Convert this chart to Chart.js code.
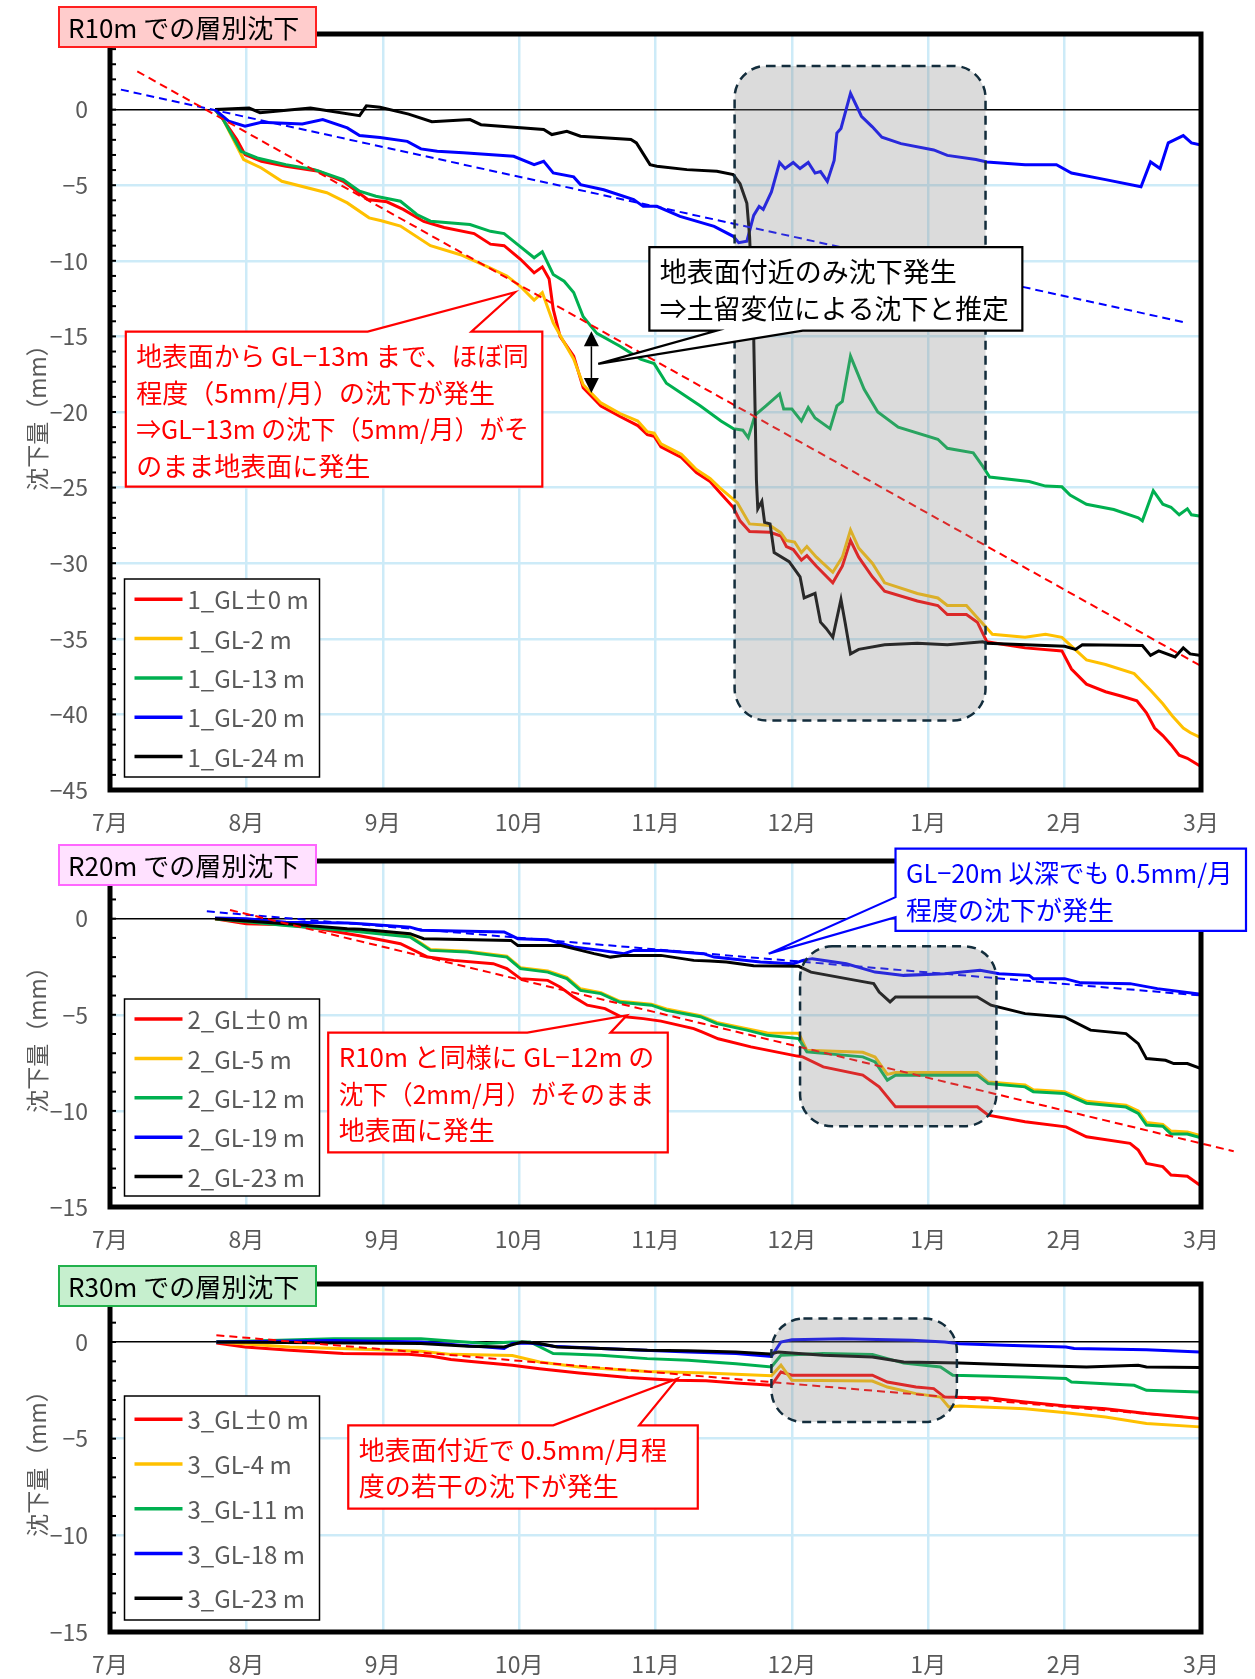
<!DOCTYPE html>
<html lang="ja">
<head>
<meta charset="utf-8">
<title>層別沈下</title>
<script src="https://cdn.jsdelivr.net/npm/chart.js@4.4.1/dist/chart.umd.min.js"></script>
<style>
    html, body { margin: 0; padding: 0; background: #fff; }
    #page { position: relative; width: 1255px; height: 1679px; overflow: hidden; }
    #page canvas { position: absolute; left: 0; }
</style>
</head>
<body>
<div id="page">
    <canvas id="chartR10" width="1255" height="845" style="top:0px"></canvas>
    <canvas id="chartR20" width="1255" height="425" style="top:840px"></canvas>
    <canvas id="chartR30" width="1255" height="417" style="top:1262px"></canvas>
</div>
<script>
'use strict';

// x is in months counted from 1 July (0 = 7月 ... 8 = 3月)
const monthTicks = [0, 1, 2, 3, 4, 5, 6, 7, 8];
const monthLabels = ['7月', '8月', '9月', '10月', '11月', '12月', '1月', '2月', '3月'];

const yTicksR10 = [0, -5, -10, -15, -20, -25, -30, -35, -40, -45];
const yTicksR20 = [0, -5, -10, -15];
const yTicksR30 = [0, -5, -10, -15];

const seriesColors = ['#FF0000', '#FFC000', '#00B050', '#0000FF', '#000000'];

// ---- R10m ----
const labelsR10 = ['1_GL±0 m', '1_GL-2 m', '1_GL-13 m', '1_GL-20 m', '1_GL-24 m'];

const r10Red = [[0.77,0],[0.83,-0.66],[0.93,-1.98],[0.99,-2.98],[1.11,-3.42],[1.29,-3.75],[1.53,-4.08],[1.71,-4.74],[1.89,-5.95],[2.03,-6.1],[2.15,-6.6],[2.30,-7.4],[2.45,-7.8],[2.67,-8.2],[2.79,-8.9],[2.89,-9.0],[3.01,-9.9],[3.11,-10.8],[3.17,-10.4],[3.22,-11.2],[3.25,-13.2],[3.30,-15.0],[3.40,-16.3],[3.47,-18.4],[3.60,-19.6],[3.74,-20.3],[3.87,-20.9],[3.94,-21.5],[3.99,-21.6],[4.04,-22.3],[4.19,-23.0],[4.30,-24.0],[4.40,-24.6],[4.48,-25.4],[4.57,-26.3],[4.62,-27.2],[4.69,-27.9],[4.84,-27.96],[4.92,-28.2],[4.96,-28.9],[5.01,-29.1],[5.07,-29.8],[5.11,-29.5],[5.18,-30.2],[5.30,-31.3],[5.37,-30.2],[5.43,-28.5],[5.49,-29.6],[5.59,-30.9],[5.68,-31.85],[5.92,-32.5],[6.07,-32.8],[6.14,-33.4],[6.28,-33.4],[6.36,-33.9],[6.43,-35.2],[6.71,-35.6],[6.98,-35.8],[7.05,-37.0],[7.16,-38.0],[7.30,-38.5],[7.42,-38.8],[7.53,-39.1],[7.60,-39.9],[7.66,-40.9],[7.72,-41.4],[7.78,-42.0],[7.84,-42.7],[7.90,-42.9],[7.99,-43.4]];
const r10Yellow = [[0.77,0],[0.83,-0.66],[0.98,-3.3],[1.11,-3.86],[1.26,-4.74],[1.59,-5.5],[1.74,-6.17],[1.90,-7.16],[1.99,-7.35],[2.13,-7.7],[2.35,-9.0],[2.57,-9.6],[2.77,-10.4],[2.91,-11.0],[3.01,-11.7],[3.11,-12.6],[3.17,-12.1],[3.25,-14.1],[3.33,-15.4],[3.40,-16.5],[3.47,-18.2],[3.60,-19.4],[3.74,-20.1],[3.87,-20.6],[3.94,-21.3],[3.99,-21.4],[4.04,-22.1],[4.19,-22.8],[4.30,-23.8],[4.40,-24.4],[4.47,-25.0],[4.60,-26.0],[4.69,-27.4],[4.84,-27.5],[4.92,-28.0],[4.96,-28.5],[5.02,-28.6],[5.07,-29.3],[5.11,-28.9],[5.18,-29.6],[5.30,-30.6],[5.37,-29.6],[5.43,-27.8],[5.49,-29.0],[5.59,-30.0],[5.68,-31.3],[5.92,-32.0],[6.07,-32.3],[6.14,-32.8],[6.28,-32.8],[6.36,-33.6],[6.43,-34.3],[6.47,-34.7],[6.71,-34.9],[6.86,-34.7],[6.98,-34.9],[7.04,-35.4],[7.16,-36.4],[7.30,-36.7],[7.51,-37.3],[7.63,-38.4],[7.72,-39.3],[7.79,-40.1],[7.87,-40.9],[7.92,-41.2],[7.99,-41.5]];
const r10Green = [[0.77,0],[0.83,-0.66],[0.96,-2.76],[1.08,-3.2],[1.29,-3.64],[1.50,-3.97],[1.71,-4.63],[1.83,-5.4],[1.95,-5.73],[2.13,-6.06],[2.25,-6.94],[2.35,-7.38],[2.64,-7.6],[2.79,-8.05],[2.89,-8.2],[2.99,-8.93],[3.11,-9.8],[3.17,-9.4],[3.25,-10.9],[3.33,-11.35],[3.40,-12.1],[3.47,-13.7],[3.57,-14.8],[3.74,-15.65],[3.89,-16.5],[3.99,-16.8],[4.08,-18.1],[4.33,-19.6],[4.48,-20.6],[4.57,-21.1],[4.64,-21.2],[4.68,-21.7],[4.73,-20.2],[4.81,-19.6],[4.91,-18.8],[4.94,-19.8],[5.0,-19.8],[5.07,-20.6],[5.12,-19.7],[5.17,-20.4],[5.28,-21.1],[5.33,-19.6],[5.37,-19.3],[5.43,-16.3],[5.53,-18.5],[5.63,-20.0],[5.78,-21.0],[6.07,-21.8],[6.14,-22.4],[6.33,-22.7],[6.40,-23.6],[6.45,-24.3],[6.74,-24.6],[6.86,-24.9],[6.98,-24.95],[7.04,-25.5],[7.16,-26.1],[7.36,-26.45],[7.54,-27.0],[7.57,-27.2],[7.65,-25.2],[7.72,-26.1],[7.78,-26.3],[7.84,-26.8],[7.90,-26.4],[7.93,-26.8],[8.0,-26.9]];
const r10Blue = [[0.77,0],[0.87,-0.77],[0.99,-1.1],[1.11,-0.84],[1.41,-0.95],[1.56,-0.66],[1.74,-1.21],[1.83,-1.72],[1.98,-1.85],[2.18,-2.1],[2.28,-2.6],[2.40,-2.75],[2.59,-2.86],[2.96,-3.09],[3.11,-3.64],[3.18,-3.42],[3.25,-4.19],[3.40,-4.45],[3.45,-4.96],[3.62,-5.3],[3.84,-5.95],[3.91,-6.4],[4.01,-6.4],[4.18,-7.06],[4.43,-7.72],[4.57,-8.38],[4.61,-8.8],[4.67,-8.7],[4.72,-7.0],[4.76,-6.4],[4.79,-6.6],[4.85,-5.45],[4.91,-3.5],[4.95,-3.9],[5.01,-3.5],[5.06,-3.9],[5.12,-3.5],[5.17,-4.2],[5.21,-4.1],[5.26,-4.75],[5.31,-3.36],[5.33,-1.55],[5.36,-1.25],[5.43,1.08],[5.51,-0.44],[5.59,-1.14],[5.66,-1.83],[5.80,-2.25],[6.04,-2.67],[6.14,-3.03],[6.35,-3.3],[6.43,-3.46],[6.71,-3.64],[6.94,-3.64],[7.05,-4.19],[7.30,-4.63],[7.56,-5.1],[7.63,-3.46],[7.70,-3.9],[7.76,-2.2],[7.87,-1.72],[7.93,-2.2],[8.0,-2.35]];
const r10Black = [[0.77,0],[1.02,0.1],[1.10,-0.2],[1.47,0.1],[1.83,-0.4],[1.88,0.25],[1.98,0.15],[2.19,-0.3],[2.36,-0.8],[2.64,-0.66],[2.72,-1.0],[3.18,-1.32],[3.24,-1.65],[3.35,-1.43],[3.45,-1.76],[3.82,-1.98],[3.86,-2.2],[3.96,-3.64],[4.01,-3.75],[4.23,-3.97],[4.45,-4.08],[4.57,-4.3],[4.62,-4.9],[4.67,-6.2],[4.69,-8.4],[4.72,-15.0],[4.74,-24.5],[4.75,-26.4],[4.78,-25.9],[4.80,-27.3],[4.84,-27.4],[4.87,-29.3],[4.98,-29.9],[5.06,-30.9],[5.09,-32.3],[5.17,-32.0],[5.21,-33.9],[5.25,-34.3],[5.30,-34.9],[5.36,-32.4],[5.39,-33.9],[5.43,-36.0],[5.49,-35.7],[5.68,-35.4],[5.92,-35.3],[6.14,-35.4],[6.40,-35.2],[6.43,-35.3],[7.0,-35.5],[7.08,-35.7],[7.13,-35.4],[7.57,-35.45],[7.63,-36.1],[7.69,-35.8],[7.81,-36.2],[7.87,-35.6],[7.92,-36.0],[8.0,-36.1]];
const r10TrendRed = [[0.20,2.53],[8.0,-36.8]];
const r10TrendBlue = [[0.08,1.32],[7.88,-14.07]];

// ---- R20m ----
const labelsR20 = ['2_GL±0 m', '2_GL-5 m', '2_GL-12 m', '2_GL-19 m', '2_GL-23 m'];

const r20Red = [[0.77,0],[1.0,-0.26],[1.29,-0.31],[1.53,-0.52],[1.84,-0.9],[2.13,-1.3],[2.33,-2.0],[2.52,-2.17],[2.81,-2.34],[2.91,-2.6],[3.01,-3.12],[3.21,-3.21],[3.30,-3.55],[3.40,-4.07],[3.50,-4.5],[3.63,-4.68],[3.74,-5.08],[3.91,-5.2],[4.04,-5.33],[4.28,-5.72],[4.34,-5.89],[4.46,-6.25],[4.70,-6.67],[5.04,-7.15],[5.08,-7.19],[5.23,-7.71],[5.52,-8.14],[5.64,-8.75],[5.76,-9.79],[6.36,-9.79],[6.44,-10.22],[6.71,-10.57],[7.01,-10.83],[7.16,-11.35],[7.48,-11.69],[7.54,-12.04],[7.60,-12.73],[7.72,-12.9],[7.78,-13.34],[7.90,-13.4],[7.99,-13.86]];
const r20Yellow = [[0.77,0],[1.29,-0.33],[1.74,-0.58],[2.20,-0.9],[2.35,-1.6],[2.62,-1.7],[2.81,-1.87],[2.91,-1.95],[3.01,-2.55],[3.21,-2.72],[3.35,-3.05],[3.45,-3.65],[3.60,-3.85],[3.74,-4.3],[3.97,-4.45],[4.08,-4.7],[4.33,-5.05],[4.45,-5.4],[4.67,-5.72],[4.82,-5.95],[5.05,-5.96],[5.11,-6.85],[5.52,-6.95],[5.61,-7.2],[5.70,-8.1],[5.76,-8.0],[6.36,-8.0],[6.44,-8.5],[6.71,-8.65],[6.77,-8.9],[7.0,-9.0],[7.16,-9.5],[7.45,-9.7],[7.54,-10.0],[7.60,-10.6],[7.72,-10.7],[7.78,-11.05],[7.90,-11.1],[8.0,-11.3]];
const r20Green = [[0.77,0],[1.29,-0.35],[1.74,-0.61],[2.20,-0.95],[2.35,-1.65],[2.62,-1.73],[2.81,-1.91],[2.91,-2.0],[3.01,-2.6],[3.21,-2.78],[3.35,-3.12],[3.45,-3.73],[3.60,-3.9],[3.74,-4.35],[3.97,-4.5],[4.08,-4.77],[4.33,-5.1],[4.45,-5.46],[4.67,-5.8],[4.82,-6.07],[5.05,-6.24],[5.11,-6.93],[5.52,-7.19],[5.61,-7.45],[5.70,-8.4],[5.76,-8.14],[6.36,-8.14],[6.44,-8.58],[6.71,-8.75],[6.77,-9.0],[7.0,-9.1],[7.16,-9.6],[7.45,-9.8],[7.54,-10.13],[7.60,-10.74],[7.72,-10.8],[7.78,-11.2],[7.90,-11.2],[8.0,-11.4]];
const r20Blue = [[0.77,0.03],[1.0,0],[1.29,-0.18],[1.74,-0.22],[1.84,-0.26],[2.20,-0.44],[2.28,-0.6],[2.89,-0.69],[2.99,-1.04],[3.21,-1.1],[3.40,-1.47],[3.60,-1.65],[3.77,-1.82],[3.84,-1.65],[4.04,-1.65],[4.35,-1.82],[4.43,-2.0],[4.77,-2.26],[5.01,-2.35],[5.08,-2.17],[5.15,-2.08],[5.40,-2.35],[5.61,-2.78],[5.82,-2.95],[6.12,-2.86],[6.38,-2.69],[6.52,-2.86],[6.74,-2.95],[6.77,-3.12],[7.0,-3.12],[7.12,-3.34],[7.48,-3.38],[7.68,-3.64],[8.0,-3.93]];
const r20Black = [[0.77,0],[1.29,-0.26],[1.74,-0.52],[1.84,-0.55],[2.20,-0.78],[2.30,-1.04],[2.94,-1.13],[2.99,-1.39],[3.30,-1.39],[3.40,-1.56],[3.55,-1.82],[3.67,-2.0],[3.77,-1.91],[4.04,-1.91],[4.28,-2.17],[4.40,-2.2],[4.52,-2.26],[4.72,-2.45],[5.05,-2.48],[5.14,-2.78],[5.47,-3.21],[5.60,-3.38],[5.64,-3.82],[5.72,-4.33],[5.76,-4.07],[6.36,-4.07],[6.46,-4.5],[6.71,-4.94],[7.0,-5.11],[7.19,-5.8],[7.45,-5.98],[7.54,-6.5],[7.60,-7.28],[7.74,-7.37],[7.80,-7.54],[7.90,-7.54],[8.0,-7.8]];
const r20TrendRed = [[0.88,0.45],[8.24,-12.1]];
const r20TrendBlue = [[0.71,0.38],[7.99,-3.99]];

// ---- R30m ----
const labelsR30 = ['3_GL±0 m', '3_GL-4 m', '3_GL-11 m', '3_GL-18 m', '3_GL-23 m'];

const r30Red = [[0.78,-0.05],[0.99,-0.26],[1.32,-0.43],[1.71,-0.6],[2.19,-0.63],[2.36,-0.74],[2.50,-0.91],[2.63,-1.0],[2.95,-1.2],[3.15,-1.38],[3.44,-1.6],[3.80,-1.84],[4.13,-1.98],[4.37,-2.0],[4.59,-2.12],[4.85,-2.24],[4.92,-1.55],[5.0,-1.72],[5.59,-1.72],[5.70,-2.07],[5.91,-2.33],[6.04,-2.41],[6.12,-2.85],[6.45,-2.9],[6.71,-3.1],[7.01,-3.31],[7.30,-3.45],[7.60,-3.7],[7.99,-3.96]];
const r30Yellow = [[0.78,0],[1.32,-0.26],[1.97,-0.4],[2.28,-0.48],[2.50,-0.64],[2.95,-0.7],[3.15,-1.03],[3.44,-1.29],[3.94,-1.52],[4.37,-1.6],[4.85,-1.75],[4.92,-1.2],[5.0,-1.98],[5.59,-2.02],[5.70,-2.33],[5.91,-2.67],[6.09,-2.85],[6.15,-3.36],[6.23,-3.31],[6.71,-3.45],[7.01,-3.66],[7.30,-3.88],[7.60,-4.22],[7.99,-4.39]];
const r30Green = [[0.78,0],[1.64,0.17],[2.28,0.17],[2.50,0.05],[2.76,-0.08],[2.95,0],[3.08,0],[3.25,-0.6],[3.37,-0.62],[3.60,-0.69],[3.94,-0.86],[4.24,-0.95],[4.59,-1.12],[4.85,-1.29],[4.92,-0.69],[5.23,-0.6],[5.59,-0.64],[5.82,-1.09],[6.09,-1.29],[6.18,-1.72],[6.71,-1.81],[7.01,-1.89],[7.05,-2.07],[7.51,-2.24],[7.60,-2.5],[7.99,-2.59]];
const r30Blue = [[0.78,0],[1.64,0.08],[2.28,0],[2.57,-0.17],[2.76,-0.26],[2.89,-0.34],[2.95,-0.08],[3.08,-0.05],[3.25,-0.22],[3.60,-0.34],[4.24,-0.52],[4.59,-0.6],[4.85,-0.75],[4.92,0],[5.0,0.12],[5.37,0.17],[5.88,0.09],[6.12,0],[6.23,-0.09],[6.56,-0.17],[7.01,-0.26],[7.07,-0.34],[7.60,-0.4],[7.99,-0.52]];
const r30Black = [[0.78,0],[2.28,-0.08],[2.63,-0.22],[2.89,-0.26],[3.02,0],[3.15,-0.08],[3.28,-0.26],[3.60,-0.34],[3.94,-0.43],[4.24,-0.45],[4.59,-0.52],[4.84,-0.62],[4.90,-0.52],[5.23,-0.69],[5.59,-0.78],[5.82,-1.03],[6.23,-1.09],[6.71,-1.2],[7.16,-1.29],[7.54,-1.2],[7.60,-1.29],[7.99,-1.32]];
const r30TrendRed = [[0.78,0.35],[8.0,-3.95]];


const FONT = '"Noto Sans CJK JP", "Noto Sans", sans-serif';
const GRID = '#CDEBF8';
const TICK_GRAY = '#595959';

Chart.defaults.font.family = FONT;

const settlementCharts = (function(){

    function toXY(arr){
        return arr.map(p => ({x: p[0], y: p[1]}));
    }

    function minus(v){
        return v === 0 ? '0' : (v < 0 ? '\u2212' + Math.abs(v) : String(v));
    }

    function roundRectPath(ctx, x, y, w, h, r){
        ctx.beginPath();
        ctx.moveTo(x + r, y);
        ctx.lineTo(x + w - r, y);
        ctx.arcTo(x + w, y, x + w, y + r, r);
        ctx.lineTo(x + w, y + h - r);
        ctx.arcTo(x + w, y + h, x + w - r, y + h, r);
        ctx.lineTo(x + r, y + h);
        ctx.arcTo(x, y + h, x, y + h - r, r);
        ctx.lineTo(x, y + r);
        ctx.arcTo(x, y, x + r, y, r);
        ctx.closePath();
    }

    function drawCallout(ctx, sx, sy, c){
        const L = sx(c.box[0]), T = sy(c.box[1]), R = sx(c.box[2]), B = sy(c.box[3]);
        const tx = sx(c.tip[0]), ty = sy(c.tip[1]);
        let b1, b2;
        if(c.side === 'left'){
            b1 = Math.min(sy(c.base[0]), sy(c.base[1]));
            b2 = Math.max(sy(c.base[0]), sy(c.base[1]));
        }
        else{
            b1 = Math.min(sx(c.base[0]), sx(c.base[1]));
            b2 = Math.max(sx(c.base[0]), sx(c.base[1]));
        }
        ctx.save();
        ctx.beginPath();
        ctx.moveTo(L, T);
        if(c.side === 'top'){ ctx.lineTo(b1, T); ctx.lineTo(tx, ty); ctx.lineTo(b2, T); }
        ctx.lineTo(R, T);
        ctx.lineTo(R, B);
        if(c.side === 'bottom'){ ctx.lineTo(b2, B); ctx.lineTo(tx, ty); ctx.lineTo(b1, B); }
        ctx.lineTo(L, B);
        if(c.side === 'left'){ ctx.lineTo(L, b2); ctx.lineTo(tx, ty); ctx.lineTo(L, b1); }
        ctx.closePath();
        ctx.fillStyle = '#FFFFFF';
        ctx.fill();
        ctx.lineWidth = 2.2;
        ctx.lineJoin = 'miter';
        ctx.strokeStyle = c.color;
        ctx.stroke();

        ctx.fillStyle = c.color;
        ctx.font = c.fontSize + 'px ' + FONT;
        ctx.textBaseline = 'middle';
        ctx.textAlign = 'left';
        const maxW = (R - L) - 24;
        for(let i = 0; i < c.lines.length; i++){
            ctx.fillText(c.lines[i], L + 10.5, T + 24.5 + i * 36.6, maxW);
        }
        ctx.restore();
    }

    function drawArrow(ctx, x, y1, y2){
        const head = 15, half = 7.5;
        ctx.save();
        ctx.strokeStyle = '#000';
        ctx.fillStyle = '#000';
        ctx.lineWidth = 1.5;
        ctx.beginPath();
        ctx.moveTo(x, y1 + head);
        ctx.lineTo(x, y2 - head);
        ctx.stroke();
        ctx.beginPath();
        ctx.moveTo(x, y1); ctx.lineTo(x - half, y1 + head); ctx.lineTo(x + half, y1 + head);
        ctx.closePath(); ctx.fill();
        ctx.beginPath();
        ctx.moveTo(x, y2); ctx.lineTo(x - half, y2 - head); ctx.lineTo(x + half, y2 - head);
        ctx.closePath(); ctx.fill();
        ctx.restore();
    }

    function makeOverlay(spec){
        return {
            id: 'overlay' + spec.name,
            afterDraw(chart){
                const ctx = chart.ctx;
                const ca = chart.chartArea;
                const xs = chart.scales.x, ys = chart.scales.y;
                const sx = v => xs.getPixelForValue(v);
                const sy = v => ys.getPixelForValue(v);

                // shaded, rounded regions (drawn over the lines so they look muted)
                spec.regions.forEach(r => {
                    const L = sx(r[0]), T = sy(r[1]), R = sx(r[2]), B = sy(r[3]);
                    ctx.save();
                    roundRectPath(ctx, L, T, R - L, B - T, 32);
                    ctx.fillStyle = 'rgba(135,135,135,0.3)';
                    ctx.fill();
                    ctx.setLineDash([9, 6]);
                    ctx.lineWidth = 2.5;
                    ctx.strokeStyle = '#132d3c';
                    ctx.stroke();
                    ctx.restore();
                });

                // heavy frame
                ctx.save();
                ctx.strokeStyle = '#000';
                ctx.lineWidth = 5;
                ctx.strokeRect(ca.left, ca.top, ca.right - ca.left, ca.bottom - ca.top);
                // small ticks every 1 mm on the left axis
                ctx.lineWidth = 2;
                for(let v = Math.ceil(ys.min); v <= Math.floor(ys.max); v++){
                    const y = sy(v);
                    ctx.beginPath();
                    ctx.moveTo(ca.left, y);
                    ctx.lineTo(ca.left + 6, y);
                    ctx.stroke();
                }
                ctx.restore();

                if(spec.arrow){
                    drawArrow(ctx, sx(spec.arrow.x), sy(spec.arrow.y1), sy(spec.arrow.y2));
                }

                spec.callouts.forEach(c => drawCallout(ctx, sx, sy, c));

                // legend
                const lg = spec.legend;
                ctx.save();
                ctx.fillStyle = '#fff';
                ctx.fillRect(lg.x, lg.y, lg.w, lg.h);
                ctx.strokeStyle = '#000';
                ctx.lineWidth = 1.5;
                ctx.strokeRect(lg.x, lg.y, lg.w, lg.h);
                ctx.font = '24px ' + FONT;
                ctx.textBaseline = 'middle';
                ctx.textAlign = 'left';
                const sets = chart.data.datasets.filter(d => d.label);
                sets.forEach((d, i) => {
                    const y = lg.y + lg.first + i * lg.step;
                    ctx.strokeStyle = d.borderColor;
                    ctx.lineWidth = 3.5;
                    ctx.beginPath();
                    ctx.moveTo(lg.x + 10, y);
                    ctx.lineTo(lg.x + 58, y);
                    ctx.stroke();
                    ctx.fillStyle = TICK_GRAY;
                    ctx.fillText(d.label, lg.x + 63, y + 1, lg.w - 70);
                });
                ctx.restore();

                // title tag
                const tb = spec.titleBox;
                ctx.save();
                ctx.fillStyle = tb.fill;
                ctx.fillRect(tb.x, tb.y, tb.w, tb.h);
                ctx.strokeStyle = tb.border;
                ctx.lineWidth = 2;
                ctx.strokeRect(tb.x, tb.y, tb.w, tb.h);
                ctx.fillStyle = '#000';
                ctx.font = '26px ' + FONT;
                ctx.textBaseline = 'middle';
                ctx.fillText(tb.text, tb.x + 9, tb.y + tb.h / 2 + 1);
                ctx.restore();
            }
        };
    }

    function build(canvasId, spec){
        const datasets = [];
        spec.series.forEach((s, i) => {
            datasets.push({
                label: spec.labels[i],
                data: toXY(s),
                borderColor: seriesColors[i],
                backgroundColor: seriesColors[i],
                borderWidth: 3,
                pointRadius: 0,
                tension: 0,
                order: 20 - i
            });
        });
        spec.trends.forEach(t => {
            datasets.push({
                label: '',
                data: toXY(t.data),
                borderColor: t.color,
                borderWidth: 2,
                borderDash: [8, 5],
                pointRadius: 0,
                order: 1,
                clip: false
            });
        });

        const ctx = document.getElementById(canvasId).getContext('2d');
        return new Chart(ctx, {
            type: 'line',
            data: { datasets: datasets },
            options: {
                responsive: false,
                animation: false,
                devicePixelRatio: 1,
                events: [],
                layout: { padding: { top: spec.areaTop, right: 54, left: 0, bottom: 0 } },
                plugins: { legend: { display: false }, tooltip: { enabled: false } },
                scales: {
                    x: {
                        type: 'linear',
                        min: 0,
                        max: 8,
                        afterBuildTicks: s => { s.ticks = monthTicks.map(v => ({value: v})); },
                        afterFit: s => { s.height = spec.axisHeight; },
                        ticks: {
                            callback: v => monthLabels[v],
                            color: TICK_GRAY,
                            font: { size: 23 },
                            padding: 18,
                            maxRotation: 0,
                            autoSkip: false
                        },
                        grid: { color: GRID, lineWidth: 2.5, drawTicks: false },
                        border: { display: false }
                    },
                    y: {
                        type: 'linear',
                        min: spec.yMin,
                        max: spec.yMax,
                        afterBuildTicks: s => { s.ticks = spec.yTicks.map(v => ({value: v})); },
                        afterFit: s => { s.width = 110; s.paddingTop = 0; s.paddingBottom = 0; },
                        ticks: {
                            callback: v => minus(v),
                            color: TICK_GRAY,
                            font: { size: 23 },
                            padding: 22
                        },
                        grid: {
                            color: c => (c.tick && c.tick.value === 0) ? '#000000' : GRID,
                            lineWidth: c => (c.tick && c.tick.value === 0) ? 1.5 : 2.5,
                            drawTicks: false
                        },
                        border: { display: false },
                        title: {
                            display: true,
                            text: '沈下量（mm）',
                            color: TICK_GRAY,
                            font: { size: 23 },
                            padding: { top: 23, bottom: 0 }
                        }
                    }
                }
            },
            plugins: [makeOverlay(spec)]
        });
    }

    return { build };
})();


settlementCharts.build('chartR10', {
    name: 'R10',
    labels: labelsR10,
    series: [r10Red, r10Yellow, r10Green, r10Blue, r10Black],
    trends: [{data: r10TrendRed, color: '#FF0000'}, {data: r10TrendBlue, color: '#0000FF'}],
    yMin: -45, yMax: 5, yTicks: yTicksR10,
    areaTop: 34, axisHeight: 55,
    regions: [[4.58, 2.89, 6.42, -40.4]],
    arrow: {x: 3.53, y1: -14.66, y2: -18.74},
    callouts: [
        {box: [0.116, -14.68, 3.17, -24.93], side: 'top', base: [1.89, 2.65], tip: [2.97, -12.08],
         color: '#FF0000', fontSize: 26,
         lines: ['地表面から GL−13m まで、ほぼ同', '程度（5mm/月）の沈下が発生', '⇒GL−13m の沈下（5mm/月）がそ', 'のまま地表面に発生']},
        {box: [3.955, -9.1, 6.69, -14.62], side: 'bottom', base: [4.45, 5.08], tip: [3.58, -16.82],
         color: '#000000', fontSize: 27,
         lines: ['地表面付近のみ沈下発生', '⇒土留変位による沈下と推定']}
    ],
    legend: {x: 124.5, y: 579, w: 195, h: 198, first: 20.3, step: 39.3},
    titleBox: {x: 59, y: 7, w: 257, h: 40, fill: '#FFCCCC', border: '#FF2020', text: 'R10m での層別沈下'}
});

settlementCharts.build('chartR20', {
    name: 'R20',
    labels: labelsR20,
    series: [r20Red, r20Yellow, r20Green, r20Blue, r20Black],
    trends: [{data: r20TrendRed, color: '#FF0000'}, {data: r20TrendBlue, color: '#0000FF'}],
    yMin: -15, yMax: 3, yTicks: yTicksR20,
    areaTop: 21, axisHeight: 58,
    regions: [[5.06, -1.44, 6.50, -10.8]],
    arrow: null,
    callouts: [
        {box: [1.60, -5.93, 4.09, -12.16], side: 'top', base: [3.06, 3.67], tip: [3.79, -5.03],
         color: '#FF0000', fontSize: 26,
         lines: ['R10m と同様に GL−12m の', '沈下（2mm/月）がそのまま', '地表面に発生']},
        {box: [5.76, 3.64, 8.33, -0.64], side: 'left', base: [1.12, 0.08], tip: [4.83, -1.82],
         color: '#0000FF', fontSize: 26,
         lines: ['GL−20m 以深でも 0.5mm/月', '程度の沈下が発生']}
    ],
    legend: {x: 124.5, y: 159, w: 195, h: 197, first: 20, step: 39.4},
    titleBox: {x: 59, y: 5, w: 257, h: 40, fill: '#FFE1FF', border: '#FF66FF', text: 'R20m での層別沈下'}
});

settlementCharts.build('chartR30', {
    name: 'R30',
    labels: labelsR30,
    series: [r30Red, r30Yellow, r30Green, r30Blue, r30Black],
    trends: [{data: r30TrendRed, color: '#FF0000'}],
    yMin: -15, yMax: 3, yTicks: yTicksR30,
    areaTop: 22, axisHeight: 47,
    regions: [[4.85, 1.21, 6.21, -4.14]],
    arrow: null,
    callouts: [
        {box: [1.747, -4.31, 4.31, -8.62], side: 'top', base: [3.25, 3.88], tip: [4.16, -1.9],
         color: '#FF0000', fontSize: 26,
         lines: ['地表面付近で 0.5mm/月程', '度の若干の沈下が発生']}
    ],
    legend: {x: 124.5, y: 134, w: 195, h: 224, first: 23.3, step: 44.75},
    titleBox: {x: 59, y: 4, w: 257, h: 40, fill: '#C6EFCE', border: '#22B14C', text: 'R30m での層別沈下'}
});
</script>
</body>
</html>
